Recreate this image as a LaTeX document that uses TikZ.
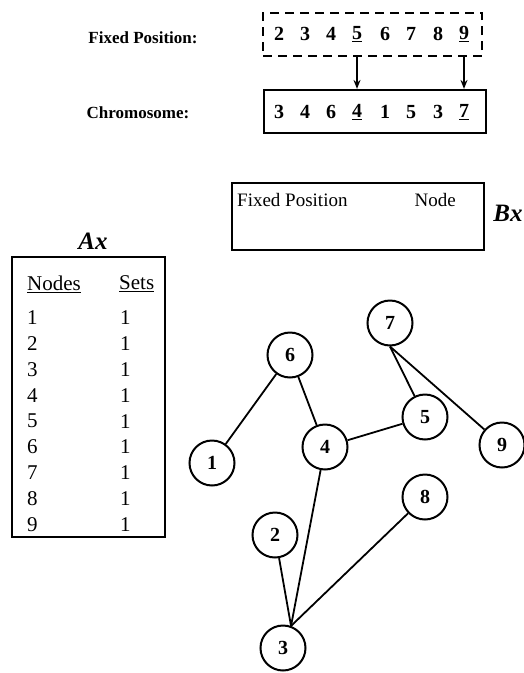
\documentclass[tikz,border=0pt]{standalone}
\usepackage{fontspec}
\setmainfont{Liberation Serif}
\usetikzlibrary{arrows.meta}
\begin{document}
\begin{tikzpicture}[x=1pt,y=-1pt,
  gnode/.style={circle,draw,line width=2pt,minimum size=45pt,inner sep=0pt,font=\fontsize{20}{20}\selectfont\bfseries},
  edge/.style={line width=1.8pt},
  lbl/.style={inner sep=0pt,font=\fontsize{17}{18}\selectfont\bfseries},
  dig/.style={inner sep=0pt,font=\fontsize{20}{20}\selectfont\bfseries},
  tab/.style={inner sep=0pt,anchor=west,font=\fontsize{21}{22}\selectfont},
  btxt/.style={inner sep=0pt,font=\fontsize{19}{20}\selectfont},
  big/.style={inner sep=0pt,font=\fontsize{25}{26}\selectfont\bfseries\itshape},
  box/.style={draw,line width=2.2pt,inner sep=0pt},
  arr/.style={line width=1.4pt,-{Stealth[length=9pt,width=7pt]}}]
\useasboundingbox (0,0) rectangle (524,673);

% top section
\node[lbl] (fplabel) at (143,38) {Fixed Position:};
\node[lbl] (chlabel) at (138,113) {Chromosome:};
\node[box,dashed,dash pattern=on 9pt off 6pt,minimum width=219pt,minimum height=43pt] (fp) at (372.5,34.5) {};
\node[box,minimum width=222pt,minimum height=43pt] (ch) at (375,111.5) {};

\foreach \d/\x [count=\i] in {2/279,3/305,4/331,\underline{5}/357,6/385,7/411,8/438,\underline{9}/464}
  \node[dig] (f\i) at (\x,34) {\d};
\foreach \d/\x [count=\i] in {3/279,4/305,6/331,\underline{4}/357,1/385,5/411,3/438,\underline{7}/464}
  \node[dig] (c\i) at (\x,112) {\d};

\draw[arr] (f4 |- fp.south) -- (c4 |- ch.north);
\draw[arr] (f8 |- fp.south) -- (c8 |- ch.north);

% Bx box
\node[box,minimum width=252pt,minimum height=67pt] (bx) at (358,216.5) {};
\node[btxt,anchor=west] (bxfp) at (237,200) {Fixed Position};
\node[btxt,anchor=east] (bxnode) at (456,200) {Node};
\node[big] (bxl) at (508,213) {Bx};

% Ax table
\node[big] (axl) at (93,241) {Ax};
\node[box,minimum width=153pt,minimum height=280pt] (ax) at (88.5,397) {};
\node[tab] (hn) at (27,284) {\underline{Nodes}};
\node[tab] (hs) at (119,284) {\underline{Sets}};
\foreach \n in {1,...,9}{
  \node[tab] (n\n) at (27,{318+(\n-1)*25.8}) {\n};
  \node[tab] (s\n) at (120,{318+(\n-1)*25.8}) {1};
}

% graph
\node[gnode] (1) at (212,463) {1};
\node[gnode] (6) at (290,355) {6};
\node[gnode] (4) at (325,447) {4};
\node[gnode] (5) at (425,417) {5};
\node[gnode] (7) at (390,323) {7};
\node[gnode] (9) at (502,445) {9};
\node[gnode] (8) at (425,497) {8};
\node[gnode] (2) at (275,535) {2};
\node[gnode] (3) at (283,648) {3};

\draw[edge] (6) -- (1);
\draw[edge] (6) -- (4);
\draw[edge] (4) -- (5);
\draw[edge] (5) -- (7.south);
\draw[edge] (7.south) -- (9);
\draw[edge] (4) -- (3.70);
\draw[edge] (2) -- (3.70);
\draw[edge] (8) -- (3.70);
\end{tikzpicture}
\end{document}
